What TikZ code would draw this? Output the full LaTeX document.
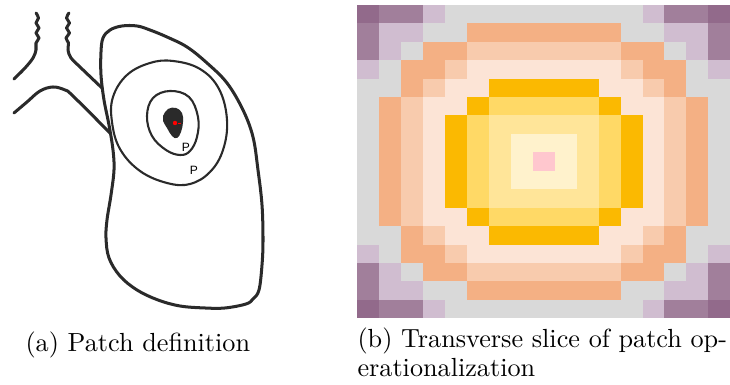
\documentclass[tikz,border=0pt]{standalone}
\usepackage{fontspec}
\newfontfamily\labfont{Liberation Sans}
\definecolor{cD}{HTML}{926A8B}
\definecolor{cM}{HTML}{A17F9B}
\definecolor{cL}{HTML}{D0BDD0}
\definecolor{cG}{HTML}{D9D9D9}
\definecolor{cO}{HTML}{F4B084}
\definecolor{cP}{HTML}{F8CBAD}
\definecolor{cE}{HTML}{FCE4D6}
\definecolor{cY}{HTML}{FBB901}
\definecolor{cF}{HTML}{FFD966}
\definecolor{cH}{HTML}{FFE599}
\definecolor{cC}{HTML}{FFF2CC}
\definecolor{cK}{HTML}{FFC7CE}
\definecolor{ink}{HTML}{2A2A2A}
\tikzset{
  thickline/.style={ink,line width=1.15pt,line cap=round,line join=round},
  ringline/.style={ink,line width=0.8pt},
  caption/.style={anchor=base west,inner sep=0pt,font=\fontsize{10}{12}\selectfont},
  plabel/.style={inner sep=0pt,font=\labfont\fontsize{4.6}{5}\selectfont},
}
\begin{document}
\begin{tikzpicture}[x=0.3817pt,y=-0.3817pt]
\useasboundingbox (0,0) rectangle (730,385);
% ---------- (b) grid ----------
\def\cw{21.94}
\def\ch{18.41}
\foreach \row [count=\i from 0] in {
  {D,M,M,L,G,G,G,G,G},
  {M,L,L,G,G,O,O,O,O},
  {M,L,G,O,O,P,P,P,P},
  {L,G,O,O,P,E,E,E,E},
  {G,G,O,P,E,E,Y,Y,Y},
  {G,O,P,E,E,Y,F,F,F},
  {G,O,P,E,Y,F,H,H,H},
  {G,O,P,E,Y,F,H,C,C},
  {G,O,P,E,Y,F,H,C,K}}{
  \foreach \c [count=\j from 0] in \row {
    \pgfmathsetmacro{\ii}{16-\i}
    \pgfmathsetmacro{\jj}{16-\j}
    \foreach \r/\s in {\i/\j,\ii/\j,\i/\jj,\ii/\jj}{
      \fill[c\c] (357+\s*\cw,5+\r*\ch) rectangle ++(\cw+0.3,\ch+0.3);
    }
  }
}
% ---------- (a) lung drawing ----------
% trachea left
\draw[thickline] plot[smooth,tension=0.6] coordinates {(36,13) (38.5,18) (36,23) (39,28) (36,33) (39,38) (36,43) (36,50) (33,58) (25,68) (14,79)};
% trachea right
\draw[thickline] plot[smooth,tension=0.6] coordinates {(69,13) (66.5,18) (69.5,23) (66.5,28) (69.5,33) (66,38) (68.5,43) (68,50) (71,58) (80,67) (102,88)};
% bronchus
\draw[thickline] plot[smooth,tension=0.6] coordinates {(14,113) (27,102) (40,91) (53,87) (65,90) (73,96) (110,133)};
% lung outline
\draw[thickline] plot[smooth cycle,tension=0.6] coordinates {
  (101,52) (103,38) (110,30) (122,26) (137,26) (150,30) (167,37) (187,47) (207,63)
  (227,83) (243,110) (253,137) (258,170) (262,205) (263,240) (262,265) (259,290)
  (253,299) (246,304) (225,308) (205,308) (180,306) (158,300) (137,290) (120,276)
  (109,258) (106,238) (107,220) (111,195) (114,170) (113,150) (109,125) (104,100) (101,75)};
% outer ring
\draw[ringline] plot[smooth cycle,tension=0.65] coordinates {
  (113,97) (127,75) (150,63) (173,61) (200,69) (219,89) (227,120) (223,150)
  (210,172) (190,184) (167,183) (140,171) (120,149) (112,122)};
% inner ring
\draw[ringline] plot[smooth cycle,tension=0.65] coordinates {
  (147,116) (153,98) (170,91) (189,97) (198,117) (197,137) (190,151) (180,155)
  (166,150) (152,136)};
% tumour
\fill[ink] plot[smooth cycle,tension=0.7] coordinates {
  (163,116) (168,109) (176,108) (182,113) (183,122) (181,132) (177,138) (172,136) (167,128) (163,121)};
\fill[red] (175,123) circle (2.2);
\draw[red,line width=0.35pt] (178,123) -- (181,123);
\node[plabel] (p1) at (186,147) {P};
\node[plabel] (p2) at (194,170) {P};
% ---------- captions ----------
\node[caption] (capa) at (25,352) {(a) Patch definition};
\node[caption] (capb1) at (357,348) {(b) Transverse slice of patch op-};
\node[caption] (capb2) at (357,377) {erationalization};
\end{tikzpicture}
\end{document}
